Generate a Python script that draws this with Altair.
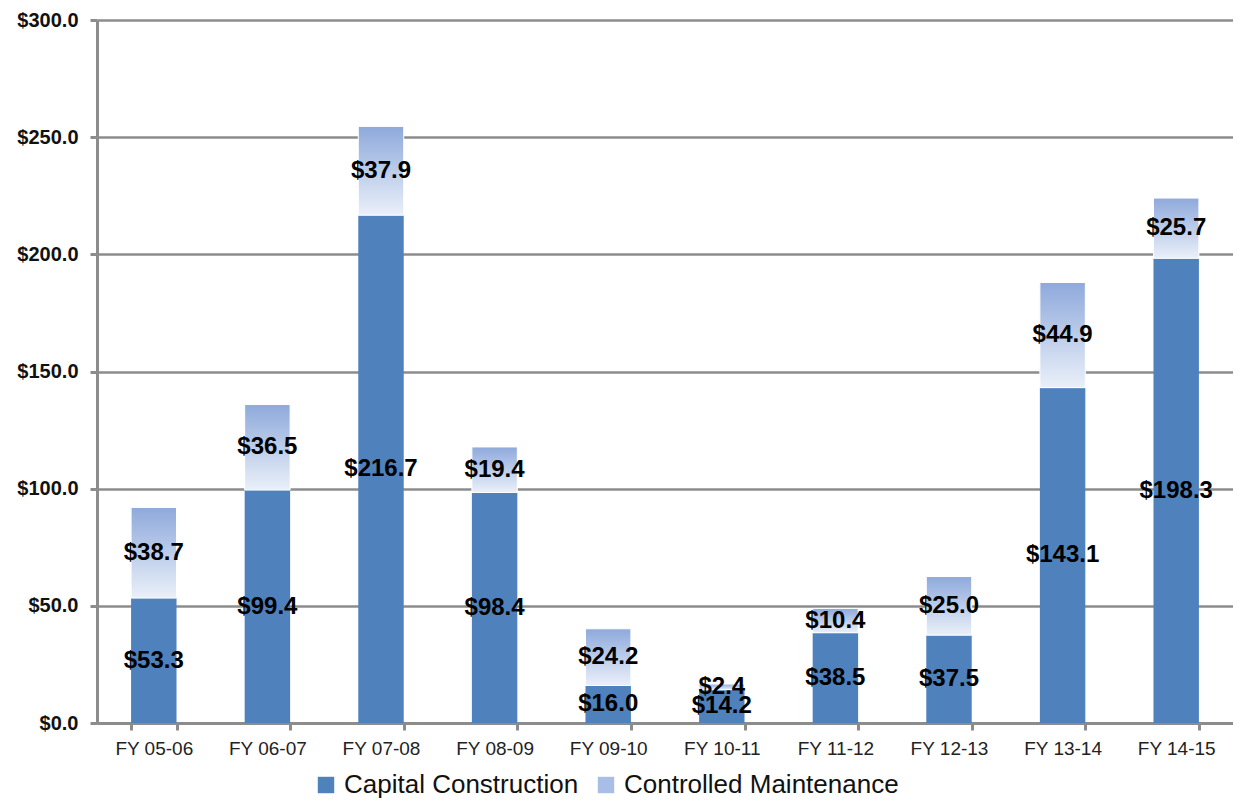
import altair as alt
import pandas as pd

years = ["FY 05-06", "FY 06-07", "FY 07-08", "FY 08-09", "FY 09-10",
         "FY 10-11", "FY 11-12", "FY 12-13", "FY 13-14", "FY 14-15"]
capital = [53.3, 99.4, 216.7, 98.4, 16.0, 14.2, 38.5, 37.5, 143.1, 198.3]
maint = [38.7, 36.5, 37.9, 19.4, 24.2, 2.4, 10.4, 25.0, 44.9, 25.7]
series = ["Capital Construction", "Controlled Maintenance"]

df = pd.DataFrame({"year": years, "capital": capital, "maint": maint})
df["total"] = df["capital"] + df["maint"]
df["cap_mid"] = df["capital"] / 2
df["m_mid"] = df["capital"] + df["maint"] / 2
df["cap_lbl"] = df["capital"].map(lambda v: f"${v:.1f}")
df["m_lbl"] = df["maint"].map(lambda v: f"${v:.1f}")
df["series"] = series[0]

FONT = "Liberation Sans"
GRAY = "#8c8c8c"

x = alt.X("year:N", sort=years, title=None,
          scale=alt.Scale(paddingInner=0.6, paddingOuter=0.3),
          axis=alt.Axis(labelAngle=0, tickBand="extent", tickSize=7,
                        tickColor=GRAY, tickWidth=3, domainColor=GRAY,
                        domainWidth=3, labelFont=FONT, labelFontSize=19,
                        labelColor="#222222", labelPadding=9, grid=False))
yscale = alt.Scale(domain=[0, 300], nice=False)
yaxis = alt.Axis(values=[0, 50, 100, 150, 200, 250, 300], format="$.1f",
                 labelFont=FONT, labelFontSize=20, labelFontWeight="bold",
                 labelColor="#111111", tickSize=7, tickColor=GRAY, tickWidth=3,
                 domainColor=GRAY, domainWidth=3, gridColor=GRAY, gridWidth=2.5,
                 labelPadding=12, title=None)

base = alt.Chart(df)

cap = base.mark_bar(opacity=1).encode(
    x=x,
    y=alt.Y("capital:Q", scale=yscale, axis=yaxis),
    color=alt.Color("series:N",
                    scale=alt.Scale(domain=series, range=["#4f81bd", "#a9bee6"]),
                    legend=alt.Legend(title=None, orient="none", direction="horizontal",
                                      legendX=216, legendY=752, symbolType="square",
                                      symbolSize=270, symbolStrokeWidth=0,
                                      labelFont=FONT, labelFontSize=26,
                                      labelColor="#111111", labelOffset=5,
                                      labelLimit=0, columnPadding=14)),
)

mnt = base.mark_bar(
    stroke="white", strokeWidth=1,
    fill=alt.Gradient(gradient="linear",
                      stops=[alt.GradientStop(color="#8ea9db", offset=0),
                             alt.GradientStop(color="#eaf0f9", offset=1)],
                      x1=0, x2=0, y1=0, y2=1)
).encode(x=x, y=alt.Y("total:Q", scale=yscale), y2="capital:Q")

txt_style = dict(font=FONT, fontWeight="bold", fontSize=24, color="black")
cap_txt = base.mark_text(**txt_style).encode(
    x=x, y=alt.Y("cap_mid:Q", scale=yscale), text="cap_lbl:N")
m_txt = base.mark_text(**txt_style).encode(
    x=x, y=alt.Y("m_mid:Q", scale=yscale), text="m_lbl:N")

chart = alt.layer(cap, mnt, cap_txt, m_txt).properties(
    width=1136, height=703,
    autosize=alt.AutoSizeParams(type="none"),
    padding={"left": 89, "top": 12, "right": 0, "bottom": 77},
).configure_view(strokeWidth=0)

chart.save("out.html", embed_options={"renderer": "svg", "actions": False})
